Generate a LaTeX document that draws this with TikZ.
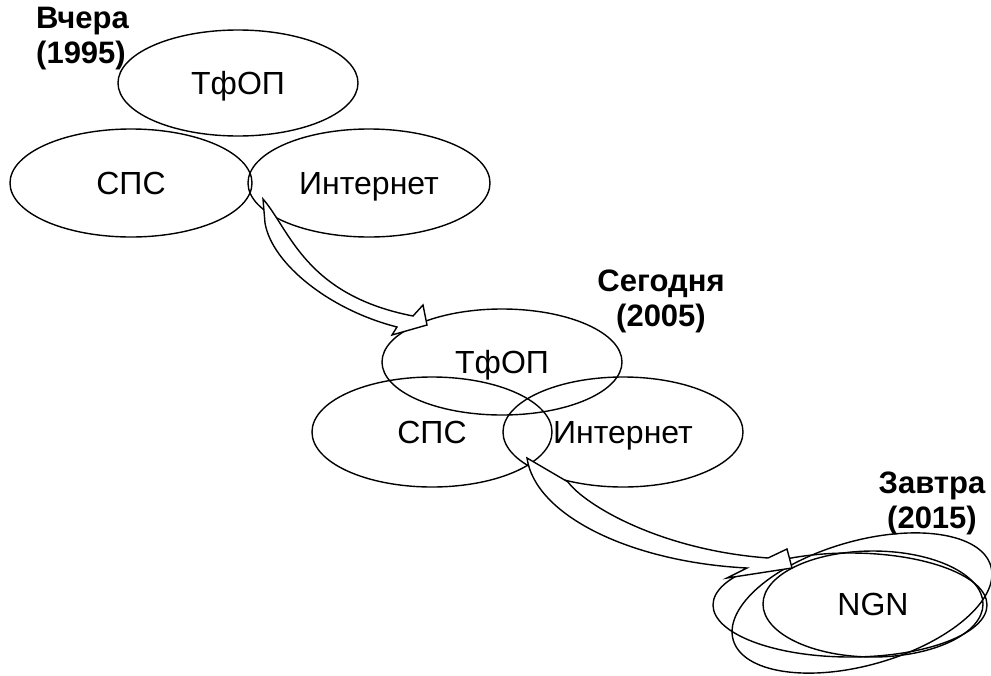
\documentclass[tikz,border=0pt]{standalone}
\usepackage{fontspec}
\setmainfont{Liberation Sans}
\usetikzlibrary{shapes.geometric}
\begin{document}
\begin{tikzpicture}[x=1pt,y=-1pt,
  ell/.style={draw, line width=1.4pt, ellipse, inner sep=0pt, text height=23pt, text depth=0pt, font=\fontsize{32}{36}\selectfont},
  lbl/.style={font=\bfseries\fontsize{31}{35}\selectfont, inner sep=0pt},
  blk/.style={draw, line width=1.4pt, fill=white, line join=miter}]
\useasboundingbox (0,0) rectangle (991,675);
% yesterday
\node[ell, minimum width=240, minimum height=106] (tfop1) at (238,83) {ТфОП};
\node[ell, minimum width=242, minimum height=108] (sps1) at (131,183) {СПС};
\node[ell, minimum width=242, minimum height=108] (inet1) at (369,183) {Интернет};
\node[lbl, align=left, anchor=north west] (y1) at (36,7) {Вчера\\(1995)};
% today
\node[ell, minimum width=240, minimum height=106] (tfop2) at (502,362) {ТфОП};
\node[ell, minimum width=240, minimum height=110] (sps2) at (432,432) {СПС};
\node[ell, minimum width=240, minimum height=110] (inet2) at (623,432) {Интернет};
\node[lbl, align=center, anchor=north] (y2) at (661,270) {Сегодня\\(2005)};
% tomorrow
\node[ell, minimum width=274, minimum height=104] (ngnA) at (850,605) {};
\node[ell, minimum width=268, minimum height=124, rotate=16] (ngnB) at (862,603) {};
\node[ell, minimum width=220, minimum height=106] (ngn) at (873,604) {NGN};
\node[lbl, align=center, anchor=north] (y3) at (932,472) {Завтра\\(2015)};
% arrow 1
\coordinate (a1t) at (263,199);
\coordinate (a1b) at (265,223);
\coordinate (a1l) at (397,327);
\coordinate (a1u) at (413,316);
\draw[blk] (a1t) -- (a1b) .. controls (272,264) and (330,310) .. (a1l) -- (392,335) -- (427,325) -- (423,305) -- (a1u) .. controls (305,295) and (290,230) .. (a1t) -- cycle;
% arrow 2
\coordinate (a2t) at (527,458);
\coordinate (a2b) at (568,482);
\coordinate (a2l) at (747,568);
\coordinate (a2u) at (768,558);
\draw[blk] (a2t) .. controls (535,515) and (630,562) .. (a2l) -- (727,578) -- (792,568) -- (787,549) -- (a2u) .. controls (660,550) and (585,505) .. (a2b) -- cycle;
\end{tikzpicture}
\end{document}
